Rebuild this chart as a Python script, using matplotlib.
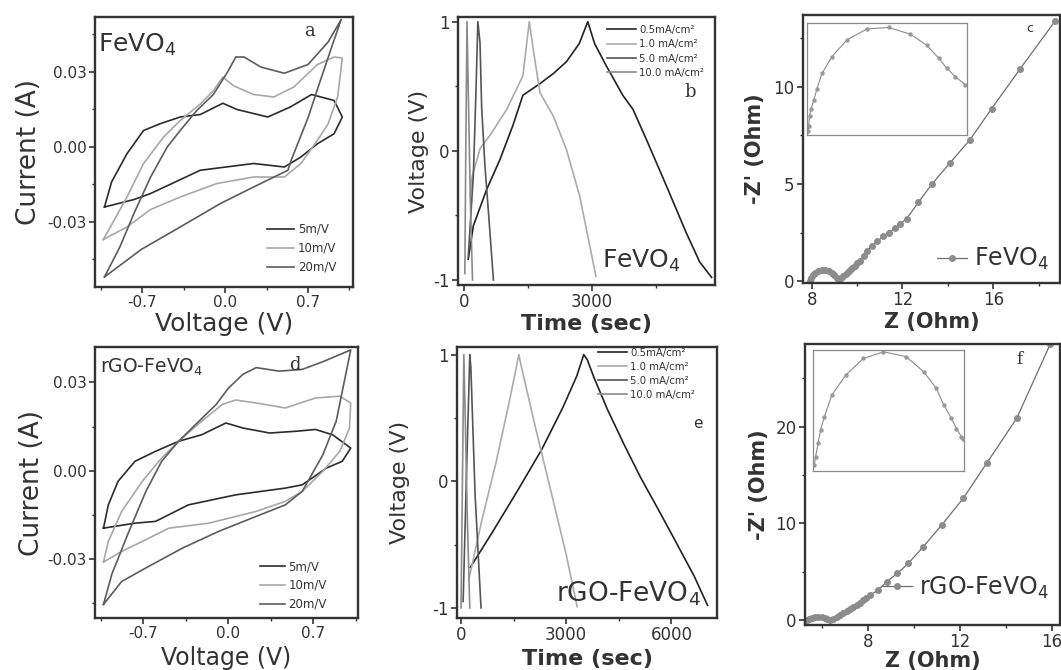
import matplotlib
matplotlib.use("Agg")
import matplotlib.pyplot as plt
from matplotlib.ticker import FixedLocator, FormatStrFormatter

plt.rcParams['font.family'] = 'DejaVu Sans'
plt.rcParams['mathtext.default'] = 'regular'
plt.rcParams['mathtext.fontset'] = 'dejavusans'
plt.rcParams['axes.unicode_minus'] = False

# ---- (a) CV of FeVO4 ----
a5_v = [-1.02, -0.96, -0.83, -0.69, -0.55, -0.38, -0.21, -0.02, 0.10, 0.36, 0.55, 0.73, 0.92, 0.99,
        0.92, 0.78, 0.64, 0.50, 0.24, -0.21, -0.63, -0.77, -1.02]
a5_i = [-0.024, -0.014, -0.0027, 0.0066, 0.0093, 0.012, 0.013, 0.0175, 0.015, 0.012, 0.016, 0.021, 0.0186, 0.012,
        0.0053, 0.0013, -0.004, -0.008, -0.0066, -0.0093, -0.0186, -0.021, -0.024]
a10_v = [-1.03, -0.97, -0.83, -0.69, -0.52, -0.38, -0.21, -0.10, -0.02, 0.07, 0.24, 0.41, 0.58, 0.78, 0.92, 0.99,
         0.95, 0.87, 0.78, 0.64, 0.50, 0.24, -0.07, -0.38, -0.63, -0.83, -1.03]
a10_i = [-0.037, -0.032, -0.020, -0.0066, 0.004, 0.0106, 0.0172, 0.0225, 0.028, 0.0245, 0.021, 0.020, 0.024, 0.033, 0.036, 0.0356,
         0.020, 0.0093, 0.0027, -0.0066, -0.012, -0.012, -0.0146, -0.020, -0.025, -0.032, -0.037]
a20_v = [-1.02, -0.89, -0.77, -0.63, -0.49, -0.38, -0.24, -0.10, 0.02, 0.09, 0.16, 0.30, 0.50, 0.70, 0.87, 0.98,
         0.90, 0.80, 0.70, 0.56, 0.53, 0.24, -0.04, -0.38, -0.71, -1.02]
a20_i = [-0.052, -0.040, -0.0265, -0.012, 0.0, 0.0066, 0.0146, 0.021, 0.030, 0.036, 0.036, 0.032, 0.0295, 0.033, 0.042, 0.051,
         0.040, 0.026, 0.0117, -0.005, -0.0093, -0.016, -0.0226, -0.032, -0.041, -0.052]

# ---- (d) CV of rGO-FeVO4 ----
d5_v = [-1.03, -0.99, -0.91, -0.77, -0.60, -0.41, -0.22, -0.02, 0.12, 0.34, 0.56, 0.72, 0.86, 1.01,
        0.94, 0.81, 0.61, 0.47, 0.06, -0.33, -0.60, -0.77, -1.03]
d5_i = [-0.0195, -0.0116, -0.0036, 0.0032, 0.0066, 0.010, 0.0122, 0.0162, 0.0145, 0.0128, 0.0134, 0.014, 0.0122, 0.0077,
        0.0032, 0.0009, -0.0048, -0.0059, -0.0082, -0.0116, -0.0172, -0.0178, -0.0195]
d10_v = [-1.03, -0.99, -0.88, -0.71, -0.55, -0.41, -0.22, -0.05, 0.06, 0.23, 0.47, 0.72, 0.92, 1.01,
         1.00, 0.92, 0.78, 0.61, 0.47, 0.23, -0.16, -0.49, -0.71, -0.88, -1.03]
d10_i = [-0.031, -0.024, -0.0138, -0.0036, 0.0043, 0.010, 0.0168, 0.0225, 0.024, 0.023, 0.0213, 0.0247, 0.0253, 0.023,
         0.0145, 0.0066, -0.0002, -0.007, -0.0104, -0.0138, -0.0178, -0.0195, -0.024, -0.0274, -0.031]
d20_v = [-1.03, -0.96, -0.82, -0.68, -0.55, -0.41, -0.27, -0.10, 0.0, 0.12, 0.23, 0.42, 0.61, 0.78, 1.01,
         0.89, 0.78, 0.61, 0.47, 0.23, -0.08, -0.38, -0.68, -0.88, -1.03]
d20_i = [-0.0454, -0.035, -0.0206, -0.007, 0.0032, 0.010, 0.0157, 0.0225, 0.028, 0.0327, 0.035, 0.0338, 0.0344, 0.037, 0.041,
         0.0168, 0.0054, -0.007, -0.0116, -0.0155, -0.0206, -0.0263, -0.033, -0.0376, -0.0454]
cv_labels = ["5m/V", "10m/V", "20m/V"]

# ---- (b) GCD of FeVO4 ----
b05_t = [100, 220, 530, 840, 1150, 1380, 1780, 2100, 2400, 2700, 2900, 3060, 3330, 3720, 3960, 4270, 4740, 5200, 5520, 5800]
b05_v = [-0.84, -0.58, -0.30, -0.07, 0.20, 0.43, 0.52, 0.60, 0.69, 0.83, 1.0, 0.83, 0.66, 0.43, 0.32, 0.09, -0.27, -0.63, -0.86, -0.98]
b10_t = [150, 190, 380, 610, 1000, 1380, 1530, 1620, 1780, 2090, 2400, 2710, 3090]
b10_v = [-0.35, -0.20, 0.02, 0.12, 0.32, 0.58, 1.0, 0.79, 0.45, 0.27, 0.01, -0.35, -0.97]
b50_t = [100, 160, 220, 280, 325, 375, 415, 490, 590, 690]
b50_v = [-0.82, -0.50, -0.19, 0.45, 1.0, 0.84, 0.33, -0.11, -0.55, -1.0]
b100_t = [20, 45, 70, 110, 150, 200]
b100_v = [-0.95, 0.10, 1.0, 0.30, -0.40, -1.0]

# ---- (e) GCD of rGO-FeVO4 ----
e05_t = [266, 900, 1600, 2300, 2900, 3300, 3500, 3600, 3790, 4170, 4650, 5120, 5600, 6070, 6650, 7030]
e05_v = [-0.68, -0.40, -0.08, 0.25, 0.58, 0.83, 1.0, 0.96, 0.82, 0.57, 0.29, 0.03, -0.21, -0.45, -0.75, -0.98]
e10_t = [220, 600, 1000, 1400, 1650, 1700, 2100, 2600, 3000, 3310]
e10_v = [-0.78, -0.30, 0.15, 0.66, 1.0, 0.93, 0.45, -0.12, -0.58, -0.99]
e50_t = [60, 150, 250, 280, 400, 570]
e50_v = [-0.95, 0.0, 1.0, 0.90, -0.10, -1.0]
e100_t = [0, 40, 80, 120, 180, 250]
e100_v = [-1.0, 0.0, 1.0, 0.50, -0.30, -1.0]
gcd_labels = ["0.5mA/cm²", "1.0 mA/cm²", "5.0 mA/cm²", "10.0 mA/cm²"]

# ---- (c) Nyquist of FeVO4 ----
c_z = [7.95, 7.98, 8.05, 8.15, 8.3, 8.45, 8.6, 8.75, 8.9, 9.0, 9.1, 9.2, 9.3, 9.4, 9.5, 9.6, 9.7, 9.8, 9.9, 10.0,
       10.13, 10.3, 10.45, 10.64, 10.9, 11.15, 11.4, 11.67, 11.9, 12.18, 12.7, 13.29, 14.09, 14.97, 15.93, 17.18, 18.72]
c_zim = [0.0, 0.15, 0.3, 0.42, 0.5, 0.55, 0.55, 0.5, 0.4, 0.3, 0.18, 0.12, 0.15, 0.25, 0.35, 0.45, 0.55, 0.68, 0.8, 0.92,
         1.04, 1.3, 1.55, 1.8, 2.05, 2.3, 2.5, 2.71, 2.95, 3.2, 4.05, 4.98, 6.08, 7.27, 8.88, 10.92, 13.38]
c_in_z = [7.912, 7.913, 7.922, 7.933, 7.955, 7.981, 8.022, 8.103, 8.225, 8.388, 8.563, 8.740, 8.875, 8.970, 9.038, 9.105, 9.187]
c_in_zim = [0.020, 0.050, 0.104, 0.140, 0.185, 0.248, 0.330, 0.420, 0.510, 0.568, 0.576, 0.540, 0.480, 0.411, 0.357, 0.312, 0.270]

# ---- (f) Nyquist of rGO-FeVO4 ----
f_z = [5.31, 5.42, 5.53, 5.67, 5.82, 5.96, 6.11, 6.22, 6.33, 6.47, 6.62, 6.76, 6.91, 7.05, 7.2, 7.35, 7.49, 7.63, 7.78, 7.92,
       8.07, 8.44, 8.8, 9.27, 9.75, 10.4, 11.2, 12.14, 13.16, 14.47, 15.93]
f_zim = [0.0, 0.15, 0.24, 0.30, 0.34, 0.28, 0.17, 0.08, 0.02, 0.15, 0.34, 0.50, 0.69, 0.90, 1.14, 1.34, 1.55, 1.80, 2.07, 2.32,
         2.58, 3.1, 3.96, 4.82, 5.86, 7.58, 9.82, 12.58, 16.2, 20.85, 28.5]
f_in_z = [5.31, 5.32, 5.34, 5.36, 5.39, 5.45, 5.56, 5.70, 5.86, 6.04, 6.18, 6.28, 6.34, 6.40, 6.44, 6.48, 6.49]
f_in_zim = [0.019, 0.046, 0.091, 0.135, 0.179, 0.251, 0.317, 0.372, 0.394, 0.378, 0.328, 0.273, 0.218, 0.174, 0.140, 0.113, 0.107]

cv_colors = ["#2b2b2b", "#a8a8a8", "#5c5c5c"]
gcd_colors = ["#222222", "#ababab", "#555555", "#8a8a8a"]
ink = "#333333"

W, H = 1061, 670
fig = plt.figure(figsize=(W / 100, H / 100), dpi=100)


def box(l, t, r, b):
    return fig.add_axes([l / W, 1 - b / H, (r - l) / W, (b - t) / H])


def frame(ax, xmaj, xmin, ymaj, ymin, size):
    for s in ax.spines.values():
        s.set_linewidth(1.7)
        s.set_color(ink)
    ax.xaxis.set_major_locator(FixedLocator(xmaj))
    ax.xaxis.set_minor_locator(FixedLocator(xmin))
    ax.yaxis.set_major_locator(FixedLocator(ymaj))
    ax.yaxis.set_minor_locator(FixedLocator(ymin))
    ax.tick_params(which='major', direction='out', length=4, width=1.2, colors=ink, labelsize=size, pad=2)
    ax.tick_params(which='minor', direction='out', length=2.5, width=1.0, colors=ink)


def inset(ax_pos, xs, ys, xl, yl):
    ai = box(*ax_pos)
    ai.set_facecolor('none')
    ai.plot(xs, ys, color='#8a8a8a', lw=0.8, marker='o', ms=2.2, mfc='#9a9a9a', mec='#9a9a9a')
    ai.set_xlim(*xl)
    ai.set_ylim(*yl)
    ai.set_xticks([])
    ai.set_yticks([])
    for s in ai.spines.values():
        s.set_linewidth(0.9)
        s.set_color('#8a8a8a')


def small_legend(ax, anchor, size, hl, sp, clip=False):
    leg = ax.legend(loc='upper left', bbox_to_anchor=anchor, frameon=False, fontsize=size, handlelength=hl,
                    labelspacing=sp, handletextpad=0.3, borderaxespad=0, borderpad=0, labelcolor=ink)
    if clip:
        for tx in leg.get_texts():
            tx.set_clip_box(ax.bbox)
            tx.set_clip_on(True)


# (a)
ax = box(95, 17, 353, 287)
for v, i, c, lab in zip([a5_v, a10_v, a20_v], [a5_i, a10_i, a20_i], cv_colors, cv_labels):
    ax.plot(v, i, color=c, lw=1.2, label=lab)
ax.set_xlim(-1.1, 1.08)
ax.set_ylim(-0.056, 0.052)
frame(ax, [-0.7, 0.0, 0.7], [-1.05, -0.35, 0.35, 1.05], [-0.03, 0.0, 0.03], [-0.045, -0.015, 0.015, 0.045], 11)
ax.xaxis.set_major_formatter(FormatStrFormatter('%.1f'))
ax.yaxis.set_major_formatter(FormatStrFormatter('%.2f'))
ax.set_xlabel("Voltage (V)", fontsize=18, labelpad=1, color=ink)
ax.set_ylabel("Current (A)", fontsize=19, labelpad=4, color=ink)
ax.text(0.012, 0.87, "FeVO$_4$", transform=ax.transAxes, fontsize=18, color=ink, va='baseline')
ax.text(0.81, 0.93, "a", transform=ax.transAxes, fontsize=13, family='DejaVu Serif', color=ink, va='baseline')
small_legend(ax, ((267 - 95) / 258, (287 - 223) / 270), 8.5, 2.3, 0.5)

# (d)
ax = box(95, 347, 358, 618)
for v, i, c, lab in zip([d5_v, d10_v, d20_v], [d5_i, d10_i, d20_i], cv_colors, cv_labels):
    ax.plot(v, i, color=c, lw=1.2, label=lab)
ax.set_xlim(-1.1, 1.07)
ax.set_ylim(-0.050, 0.042)
frame(ax, [-0.7, 0.0, 0.7], [-1.05, -0.35, 0.35, 1.05], [-0.03, 0.0, 0.03], [-0.045, -0.015, 0.015], 11)
ax.xaxis.set_major_formatter(FormatStrFormatter('%.1f'))
ax.yaxis.set_major_formatter(FormatStrFormatter('%.2f'))
ax.set_xlabel("Voltage (V)", fontsize=17, labelpad=3, color=ink)
ax.set_ylabel("Current (A)", fontsize=19, labelpad=2, color=ink)
ax.text(0.02, 0.905, "rGO-FeVO$_4$", transform=ax.transAxes, fontsize=13.5, color=ink, va='baseline')
ax.text(0.74, 0.915, "d", transform=ax.transAxes, fontsize=13, family='DejaVu Serif', color=ink, va='baseline')
small_legend(ax, ((260 - 95) / 263, (618 - 560) / 271), 8.5, 2.1, 0.5)

# (b)
ax = box(458, 17, 715, 285)
for t, v, c, lab in zip([b05_t, b10_t, b50_t, b100_t], [b05_v, b10_v, b50_v, b100_v], gcd_colors, gcd_labels):
    ax.plot(t, v, color=c, lw=1.2, label=lab)
ax.set_xlim(-140, 5880)
ax.set_ylim(-1.039, 1.036)
frame(ax, [0, 3000], [1500, 4500], [-1, 0, 1], [-0.5, 0.5], 12)
ax.set_xlabel("Time (sec)", fontsize=16, fontweight='bold', labelpad=2, color=ink)
ax.set_ylabel("Voltage (V)", fontsize=16, labelpad=3, color=ink)
ax.text(0.56, 0.063, "FeVO$_4$", transform=ax.transAxes, fontsize=18, color=ink, va='baseline')
ax.text(0.88, 0.70, "b", transform=ax.transAxes, fontsize=13, family='DejaVu Serif', color=ink, va='baseline')
small_legend(ax, ((607 - 458) / 257, (285 - 25) / 268), 7.3, 2.9, 0.42, clip=True)

# (e)
ax = box(457, 347, 717, 618)
for t, v, c, lab in zip([e05_t, e10_t, e50_t, e100_t], [e05_v, e10_v, e50_v, e100_v], gcd_colors, gcd_labels):
    ax.plot(t, v, color=c, lw=1.2, label=lab)
ax.set_xlim(-115, 7300)
ax.set_ylim(-1.08, 1.06)
frame(ax, [0, 3000, 6000], [1500, 4500], [-1, 0, 1], [-0.5, 0.5], 12)
ax.set_xlabel("Time (sec)", fontsize=16, fontweight='bold', labelpad=3, color=ink)
ax.set_ylabel("Voltage (V)", fontsize=16, labelpad=16, color=ink)
ax.text(0.38, 0.06, "rGO-FeVO$_4$", transform=ax.transAxes, fontsize=19, color=ink, va='baseline')
ax.text(0.91, 0.70, "e", transform=ax.transAxes, fontsize=11, color=ink, va='baseline')
small_legend(ax, ((598 - 457) / 260, (618 - 348) / 271), 7.3, 2.9, 0.38, clip=True)

# (c)
ax = box(803, 15, 1060, 283)
ax.plot(c_z, c_zim, color='#6e6e6e', lw=0.9, marker='o', ms=4, mfc='#8c8c8c', mec='#8c8c8c', label="FeVO$_4$")
ax.set_xlim(7.62, 18.94)
ax.set_ylim(-0.1, 13.7)
frame(ax, [8, 12, 16], [10, 14, 18], [0, 5, 10], [2.5, 7.5, 12.5], 12)
ax.set_xlabel("Z (Ohm)", fontsize=15, fontweight='bold', labelpad=2, color=ink)
ax.set_ylabel("-Z' (Ohm)", fontsize=15, fontweight='bold', labelpad=6, color=ink)
ax.text(0.87, 0.935, "c", transform=ax.transAxes, fontsize=9, color=ink, va='baseline')
ax.legend(loc='lower right', bbox_to_anchor=(1.04, -0.04), frameon=False, fontsize=17, handlelength=1.3,
          handletextpad=0.3, labelcolor=ink)
inset((807, 23, 967, 135), c_in_z, c_in_zim, (7.9, 9.2), (0, 0.6))

# (f)
ax = box(805, 344, 1060, 625)
ax.plot(f_z, f_zim, color='#6e6e6e', lw=0.9, marker='o', ms=4, mfc='#8c8c8c', mec='#8c8c8c', label="rGO-FeVO$_4$")
ax.set_xlim(5.24, 16.36)
ax.set_ylim(-0.52, 28.54)
frame(ax, [8, 12, 16], [6, 10, 14], [0, 10, 20], [5, 15, 25], 12)
ax.set_xlabel("Z (Ohm)", fontsize=15, fontweight='bold', labelpad=0, color=ink)
ax.set_ylabel("-Z' (Ohm)", fontsize=15, fontweight='bold', labelpad=5, color=ink)
ax.text(0.83, 0.93, "f", transform=ax.transAxes, fontsize=12, family='DejaVu Serif', color=ink, va='baseline')
ax.legend(loc='lower right', bbox_to_anchor=(1.04, 0.01), frameon=False, fontsize=17, handlelength=1.3,
          handletextpad=0.3, labelcolor=ink)
inset((813, 350, 964, 471), f_in_z, f_in_zim, (5.3, 6.5), (0, 0.4))

fig.savefig("out.png", dpi=100)
